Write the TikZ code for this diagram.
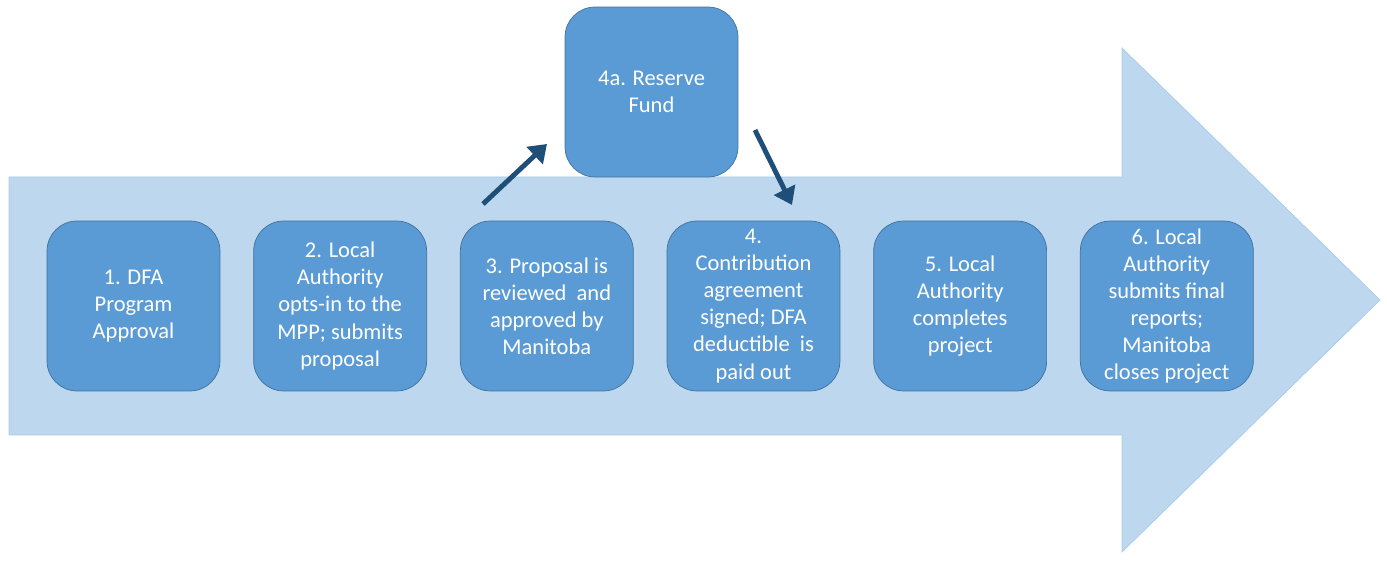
\documentclass[tikz,border=0pt]{standalone}
\usepackage{fontspec}
\setmainfont{Carlito}
\usetikzlibrary{positioning,arrows.meta}

\definecolor{bandfill}{HTML}{BDD7EE}
\definecolor{bandline}{HTML}{A9CBE9}
\definecolor{stepfill}{HTML}{5B9BD5}
\definecolor{stepline}{HTML}{41719C}
\definecolor{flowblue}{HTML}{1F4E79}

\tikzset{
  stepbox/.style={draw=stepline,fill=stepfill,rounded corners=0.6cm,
    minimum width=3.46cm,minimum height=3.4cm,inner sep=0pt,
    align=center,text=white,font=\fontsize{12.8}{15.4}\selectfont},
  flow/.style={->,draw=flowblue,line width=2.8pt},
}

\begin{document}
\begin{tikzpicture}[x=0.02cm,y=-0.02cm,>={Triangle[length=0.34cm,width=0.46cm]},node distance=0.66cm]
\useasboundingbox (0,0) rectangle (1387,563);

% the big arrow behind the steps
\draw[draw=bandline,fill=bandfill] (9,177) -- (1122,177) -- (1122,48) -- (1380,300)
  -- (1122,552) -- (1122,435) -- (9,435) -- cycle;

\node[stepbox] (s1) at (133.5,306) {1. DFA\\Program\\Approval};
\node[stepbox] (s2) [right=of s1] {2. Local\\Authority\\opts-in to the\\MPP; submits\\proposal};
\node[stepbox] (s3) [right=of s2] {3. Proposal is\\reviewed~ and\\approved by\\Manitoba};
\node[stepbox] (s4) [right=of s3] {4.\\Contribution\\agreement\\signed; DFA\\deductible~ is\\paid out};
\node[stepbox] (s5) [right=of s4] {5. Local\\Authority\\completes\\project};
\node[stepbox] (s6) [right=of s5] {6. Local\\Authority\\submits final\\reports;\\Manitoba\\closes project};

\node[stepbox] (s4a) at (651.5,92) {4a. Reserve\\Fund};

% detour through the reserve fund
\coordinate (up1) at (483,204);
\coordinate (up2) at (547,144);
\coordinate (dn1) at (755,130);
\coordinate (dn2) at (792,205);
\draw[flow] (up1) -- (up2);
\draw[flow] (dn1) -- (dn2);

\end{tikzpicture}
\end{document}
